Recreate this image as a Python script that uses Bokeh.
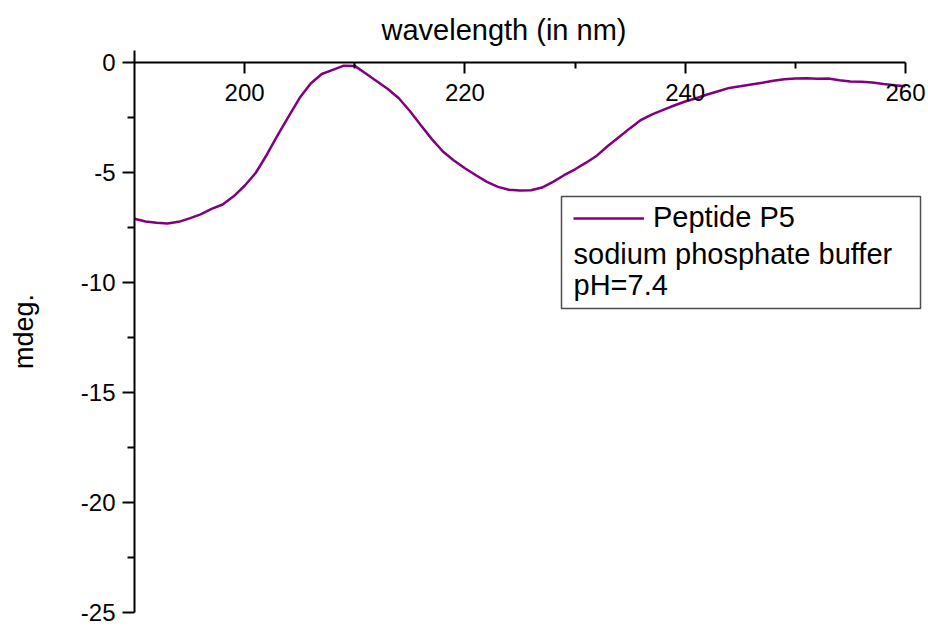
from bokeh.plotting import figure
from bokeh.models import (Range1d, FixedTicker, Legend, LegendItem, Label, BoxAnnotation,
                          PrintfTickFormatter)
from bokeh.embed import file_html
from bokeh.resources import INLINE

# ---- data ----
wavelength = list(range(190, 261))
mdeg = [
    -7.10, -7.22, -7.28, -7.32, -7.24, -7.08, -6.90, -6.65, -6.45, -6.08,   # 190-199
    -5.60, -5.02, -4.20, -3.30, -2.45, -1.60, -0.95, -0.52, -0.33, -0.14,   # 200-209
    -0.15, -0.50, -0.85, -1.20, -1.62, -2.20, -2.85, -3.48, -4.04, -4.45,   # 210-219
    -4.80, -5.12, -5.42, -5.65, -5.78, -5.82, -5.80, -5.68, -5.42, -5.12,   # 220-229
    -4.85, -4.55, -4.22, -3.78, -3.38, -2.98, -2.60, -2.35, -2.15, -1.95,   # 230-239
    -1.77, -1.62, -1.45, -1.30, -1.15, -1.08, -1.00, -0.92, -0.83, -0.76,   # 240-249
    -0.72, -0.71, -0.73, -0.72, -0.80, -0.86, -0.87, -0.90, -0.97, -1.03,   # 250-259
    -1.08,                                                                  # 260
]
x_major_ticks = [200, 220, 240, 260]
x_minor_ticks = [210, 230, 250]
y_major_ticks = [0, -5, -10, -15, -20, -25]
y_minor_ticks = [-2.5, -7.5, -12.5, -17.5, -22.5]
series_label = "Peptide P5"
legend_notes = ["sodium phosphate buffer", "pH=7.4"]
x_title = "wavelength (in nm)"
y_title = "mdeg."

FONT = "Liberation Sans"
PURPLE = "#800080"

p = figure(width=928, height=626, output_backend="svg", toolbar_location=None,
           x_range=Range1d(190, 262.09), y_range=Range1d(-25, 0.55),
           min_border_left=134, min_border_right=0, min_border_top=50, min_border_bottom=14)
p.outline_line_color = None
p.grid.visible = False
p.background_fill_color = "white"
p.border_fill_color = "white"

r = p.line(wavelength, mdeg, line_color=PURPLE, line_width=2.5)

# x axis drawn at y = 0
xa = p.xaxis[0]
xa.fixed_location = 0
xa.bounds = (190, 260)
xa.ticker = FixedTicker(ticks=x_major_ticks, minor_ticks=x_minor_ticks)
xa.formatter = PrintfTickFormatter(format="%d")
xa.axis_line_width = 2
xa.axis_line_color = "black"
xa.major_tick_line_width = 2
xa.minor_tick_line_width = 2
xa.major_tick_line_color = "black"
xa.minor_tick_line_color = "black"
xa.major_tick_in = 0
xa.major_tick_out = 11
xa.minor_tick_in = 0
xa.minor_tick_out = 6
xa.major_label_text_font = FONT
xa.major_label_text_font_size = "24px"
xa.major_label_text_color = "black"
xa.major_label_standoff = 10

ya = p.yaxis[0]
ya.ticker = FixedTicker(ticks=y_major_ticks, minor_ticks=y_minor_ticks)
ya.formatter = PrintfTickFormatter(format="%d")
ya.axis_line_width = 2
ya.axis_line_color = "black"
ya.major_tick_line_width = 2
ya.minor_tick_line_width = 2
ya.major_tick_line_color = "black"
ya.minor_tick_line_color = "black"
ya.major_tick_in = 0
ya.major_tick_out = 12
ya.minor_tick_in = 0
ya.minor_tick_out = 7
ya.major_label_text_font = FONT
ya.major_label_text_font_size = "24px"
ya.major_label_text_color = "black"
ya.major_label_standoff = 7
ya.axis_label = y_title
ya.axis_label_text_font = FONT
ya.axis_label_text_font_size = "27px"
ya.axis_label_text_font_style = "normal"
ya.axis_label_text_color = "black"
ya.axis_label_standoff = 39

p.title.text = x_title
p.title.align = "left"
p.title.offset = 247
p.title.standoff = 9
p.title.text_font = FONT
p.title.text_font_size = "29px"
p.title.text_font_style = "normal"
p.title.text_color = "black"

# legend box
box = BoxAnnotation(left=427, right=786, top=416, bottom=304,
                    left_units="screen", right_units="screen",
                    top_units="screen", bottom_units="screen",
                    fill_color=None, fill_alpha=0,
                    line_color="#4d4d4d", line_width=1.5, line_alpha=1)
p.add_layout(box)

legend = Legend(items=[LegendItem(label=series_label, renderers=[r])],
                location=(439, 378), border_line_color=None,
                background_fill_alpha=0, padding=0, margin=0, spacing=0,
                glyph_width=71, glyph_height=20, label_standoff=9,
                label_text_font=FONT, label_text_font_size="29px",
                label_text_color="black")
p.add_layout(legend)

for note, ypos in zip(legend_notes, [359, 328]):
    p.add_layout(Label(x=439, y=ypos, x_units="screen", y_units="screen", text=note,
                       text_font=FONT, text_font_size="29px", text_color="black",
                       text_baseline="alphabetic", text_align="left"))

open("out.html", "w").write(file_html(p, INLINE))
